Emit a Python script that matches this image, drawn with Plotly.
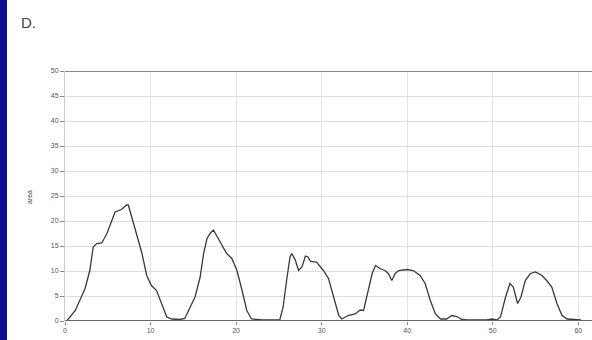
import plotly.graph_objects as go

# data
time_x = [0, 0.2, 1.2, 1.95, 2.35, 2.9, 3.3, 3.7, 4.3, 4.9, 5.5, 5.85, 6.6, 7.2, 7.4, 7.8,
          8.4, 9.0, 9.55, 10.1, 10.7, 11.3, 11.9, 12.5, 13.4, 14.0, 14.6, 15.2, 15.8, 16.2,
          16.6, 17.0, 17.35, 17.7, 18.3, 18.9, 19.5, 20.1, 20.7, 21.25, 21.8, 23.0, 25.1,
          25.5, 25.9, 26.3, 26.5, 26.9, 27.3, 27.7, 28.1, 28.4, 28.7, 29.4, 30.2, 30.8,
          31.4, 32.0, 32.35, 33.1, 33.9, 34.5, 34.9, 35.5, 35.9, 36.3, 36.8, 37.4, 37.8,
          38.2, 38.6, 39.0, 40.0, 40.7, 41.5, 42.1, 42.7, 43.3, 43.9, 44.6, 45.2, 45.8,
          46.4, 47.0, 49.3, 49.9, 50.5, 50.9, 51.5, 52.0, 52.4, 52.9, 53.3, 53.8, 54.4,
          55.0, 55.75, 56.3, 56.9, 57.5, 58.1, 58.7, 59.5, 60.3]
area_y = [0, 0, 2.1, 4.8, 6.5, 10.1, 14.8, 15.5, 15.6, 17.5, 20.2, 21.8, 22.3, 23.2, 23.2, 20.8,
          17.5, 13.5, 9.1, 7.1, 6.1, 3.5, 0.8, 0.4, 0.3, 0.5, 2.8, 4.8, 8.8, 13.5,
          16.5, 17.6, 18.2, 17.2, 15.2, 13.5, 12.5, 10.1, 6.1, 2.1, 0.4, 0.2, 0.2,
          2.8, 8.1, 12.8, 13.5, 12.3, 10.1, 10.8, 13.0, 12.8, 11.9, 11.8, 10.1, 8.5,
          4.8, 1.1, 0.4, 1.1, 1.4, 2.2, 2.1, 6.8, 9.5, 11.1, 10.5, 10.1, 9.5,
          8.1, 9.5, 10.1, 10.3, 10.1, 9.1, 7.5, 4.1, 1.4, 0.4, 0.4, 1.1, 0.9,
          0.3, 0.2, 0.2, 0.4, 0.2, 0.8, 4.8, 7.5, 6.8, 3.5, 4.8, 8.1, 9.5,
          9.8, 9.1, 8.1, 6.8, 3.5, 1.1, 0.4, 0.3, 0.2]
x_ticks = [0, 10, 20, 30, 40, 50, 60]
y_ticks = [0, 5, 10, 15, 20, 25, 30, 35, 40, 45, 50]

W, H = 592, 340
L, R, T, B = 65, 0, 71, 19
pw, ph = W - L - R, H - T - B

fig = go.Figure()
fig.add_trace(go.Scatter(x=time_x, y=area_y, mode="lines",
                         line=dict(color="#3a3a3a", width=1.3), showlegend=False))

tickfont = dict(family="Liberation Sans, Arial, sans-serif", size=7, color="#555")
fig.update_layout(
    width=W, height=H,
    margin=dict(l=L, r=R, t=T, b=B),
    paper_bgcolor="white", plot_bgcolor="white",
    xaxis=dict(range=[0, 61.6], tickvals=x_ticks, showgrid=True, gridcolor="#e4e4e4",
               gridwidth=1, zeroline=False, showline=False, ticks="outside",
               ticklen=3, tickcolor="#888", tickfont=tickfont),
    yaxis=dict(range=[0, 50], tickvals=y_ticks, showgrid=True, gridcolor="#dcdcdc",
               gridwidth=1, zeroline=False, showline=True, linecolor="#ccc",
               ticks="outside", ticklen=4, tickcolor="#888", tickfont=tickfont),
)
# top and bottom dark border lines
fig.add_shape(type="line", xref="paper", yref="y", x0=0, x1=1, y0=50, y1=50,
              line=dict(color="#888", width=2))
fig.add_shape(type="line", xref="paper", yref="y", x0=0, x1=1, y0=0, y1=0,
              line=dict(color="#666", width=2))
# blue strip on the left
fig.add_shape(type="rect", xref="paper", yref="paper",
              x0=(0 - L) / pw, x1=(7 - L) / pw, y0=-B / ph - 0.01, y1=(H - B) / ph + 0.01,
              fillcolor="#0c0c8e", line=dict(width=0), layer="above")
fig.add_annotation(text="D.", xref="paper", yref="paper", x=(19 - L) / pw,
                   y=(H - B - 22) / ph, xanchor="left", yanchor="middle", showarrow=False,
                   font=dict(family="Liberation Sans, Arial, sans-serif", size=15, color="#444"))
fig.add_annotation(text="area", xref="paper", yref="paper", x=(29 - L) / pw,
                   y=(H - B - 197) / ph, textangle=-90, xanchor="center", yanchor="middle",
                   showarrow=False,
                   font=dict(family="Liberation Sans, Arial, sans-serif", size=7, color="#444"))

fig.write_html("out.html", config={"displayModeBar": False},
               post_script="document.body.style.margin='0';document.body.style.overflow='hidden';")
